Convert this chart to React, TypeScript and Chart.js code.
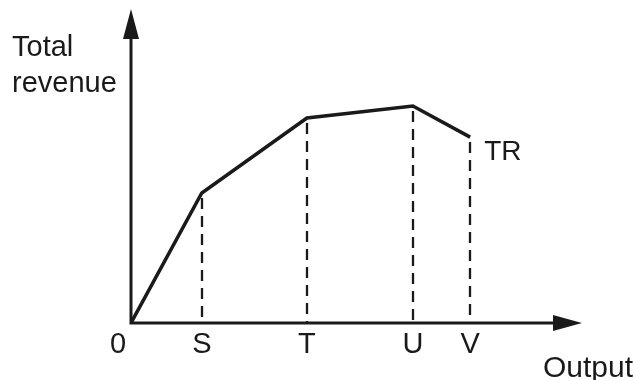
import React, { useEffect, useRef } from "react";
import { Chart, registerables } from "chart.js";

Chart.register(...registerables);

// Data (x in output units, y in revenue units)
const outputValues = [0, 15.7, 39.0, 62.5, 75.2];
const revenueValues = [0, 41.4, 65.3, 69.1, 59.2];
const tickLabels = ["0", "S", "T", "U", "V"];
const seriesLabel = "TR";
const xAxisTitle = "Output";
const yAxisTitle = ["Total", "revenue"];

const INK = "#1a1a1a";
const FONT = "Liberation Sans, Arial, Helvetica, sans-serif";

const diagramPlugin = {
  id: "diagram",
  afterDatasetsDraw(chart: any) {
    const ctx = chart.ctx;
    const xs = chart.scales.x;
    const ys = chart.scales.y;
    const x0 = xs.getPixelForValue(0);
    const y0 = ys.getPixelForValue(0);
    const xEnd = xs.getPixelForValue(xs.max);
    const yTop = ys.getPixelForValue(ys.max);
    ctx.save();

    // dashed drop lines
    ctx.strokeStyle = INK;
    ctx.lineWidth = 2.3;
    ctx.setLineDash([11, 7]);
    for (let i = 1; i < outputValues.length; i++) {
      const px = Math.round(xs.getPixelForValue(outputValues[i]));
      const py = ys.getPixelForValue(revenueValues[i]);
      ctx.beginPath();
      ctx.moveTo(px, py + 5);
      ctx.lineTo(px, y0);
      ctx.stroke();
    }
    ctx.setLineDash([]);

    // axes
    ctx.lineWidth = 3;
    ctx.beginPath();
    ctx.moveTo(x0, y0);
    ctx.lineTo(xEnd - 20, y0);
    ctx.moveTo(x0, y0 + 1.5);
    ctx.lineTo(x0, yTop + 20);
    ctx.stroke();

    ctx.fillStyle = INK;
    // y arrow
    ctx.beginPath();
    ctx.moveTo(x0, yTop);
    ctx.lineTo(x0 - 8, yTop + 30);
    ctx.lineTo(x0 + 8, yTop + 30);
    ctx.closePath();
    ctx.fill();
    // x arrow
    ctx.beginPath();
    ctx.moveTo(xEnd, y0);
    ctx.lineTo(xEnd - 29, y0 - 8);
    ctx.lineTo(xEnd - 29, y0 + 8);
    ctx.closePath();
    ctx.fill();

    // tick labels
    ctx.font = `29px ${FONT}`;
    ctx.textBaseline = "alphabetic";
    ctx.textAlign = "center";
    for (let i = 0; i < tickLabels.length; i++) {
      let px = xs.getPixelForValue(outputValues[i]);
      if (i === 0) px -= 13;
      ctx.fillText(tickLabels[i], px, y0 + 30);
    }

    // axis titles
    ctx.textAlign = "left";
    ctx.font = `30px ${FONT}`;
    ctx.fillText(xAxisTitle, xs.getPixelForValue(xs.max) - 39, y0 + 54);
    ctx.font = `29px ${FONT}`;
    ctx.fillText(yAxisTitle[0], 12, 56);
    ctx.fillText(yAxisTitle[1], 12, 92);

    // series label
    const last = outputValues.length - 1;
    ctx.font = `28px ${FONT}`;
    ctx.fillText(
      seriesLabel,
      xs.getPixelForValue(outputValues[last]) + 14,
      ys.getPixelForValue(revenueValues[last]) + 23
    );
    ctx.restore();
  },
};

export default function App() {
  const ref = useRef<HTMLCanvasElement | null>(null);
  useEffect(() => {
    if (!ref.current) return;
    const chart = new Chart(ref.current, {
      type: "line",
      data: {
        datasets: [
          {
            label: seriesLabel,
            data: outputValues.map((x, i) => ({ x, y: revenueValues[i] })),
            borderColor: INK,
            borderWidth: 3.5,
            pointRadius: 0,
            tension: 0,
            borderJoinStyle: "miter",
          },
        ],
      },
      options: {
        responsive: false,
        animation: false,
        events: [],
        layout: { padding: { left: 131, right: 53, top: 9, bottom: 57 } },
        plugins: { legend: { display: false }, tooltip: { enabled: false } },
        scales: {
          x: { type: "linear", min: 0, max: 100, display: false },
          y: { type: "linear", min: 0, max: 100, display: false },
        },
      },
      plugins: [diagramPlugin],
    });
    return () => chart.destroy();
  }, []);
  return (
    <div style={{ position: "fixed", left: 0, top: 0, width: 635, height: 380, background: "#fff" }}>
      <canvas ref={ref} width={635} height={380} />
    </div>
  );
}
